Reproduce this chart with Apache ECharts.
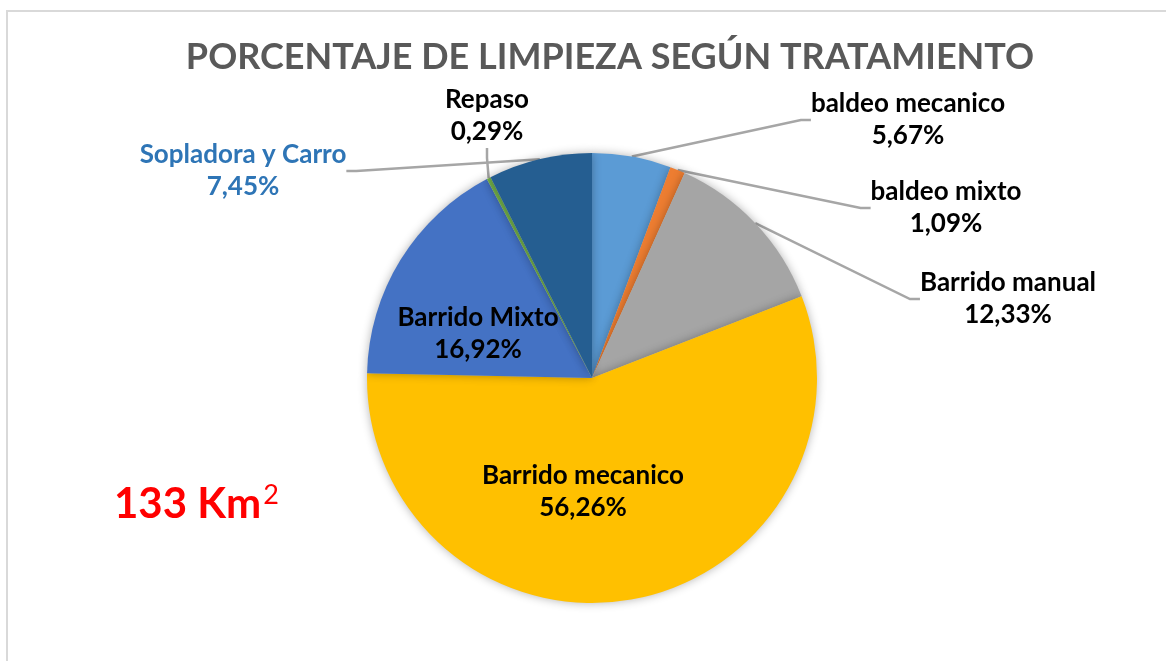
<!DOCTYPE html>
<html>
<head>
<meta charset="utf-8">
<script src="https://cdn.jsdelivr.net/npm/echarts@6/dist/echarts.min.js"></script>
<style>
  html, body { margin: 0; padding: 0; background: #fff; }
  #chart { width: 1166px; height: 661px; }
</style>
</head>
<body>
<div id="chart"></div>
<script>
// slices, clockwise from 12 o'clock
const categories = ['baldeo mecanico', 'baldeo mixto', 'Barrido manual', 'Barrido mecanico', 'Barrido Mixto', 'Repaso', 'Sopladora y Carro'];
const percents = [5.67, 1.09, 12.33, 56.26, 16.92, 0.29, 7.45];
const colors = ['#5B9BD5', '#ED7D31', '#A5A5A5', '#FFC000', '#4472C4', '#70AD47', '#255E91'];
const labelColors = ['#000', '#000', '#000', '#000', '#000', '#000', '#2E75B6'];

// where each label box sits (centre), Excel-like manual placement
const labelSpots = [
  [908, 120], [946, 208], [1008, 299], [583, 492], [478, 334], [487, 116], [243, 171]
];

const chart = echarts.init(document.getElementById('chart'));
const font = 'Lato, "Open Sans", sans-serif';

const option = {
  backgroundColor: '#fff',
  animation: false,
  title: {
    text: 'PORCENTAJE DE LIMPIEZA SEGÚN TRATAMIENTO',
    left: 605,
    textAlign: 'center',
    top: 34,
    textStyle: { fontFamily: font, fontSize: 36, fontWeight: 'bold', color: '#595959' }
  },
  graphic: [
    {
      type: 'polyline',
      shape: { points: [[7, 661], [7, 11], [1166, 11]] },
      style: { stroke: '#d9d9d9', lineWidth: 2, fill: null },
      silent: true
    },
    {
      type: 'text',
      left: 114,
      top: 482,
      style: {
        text: '{a|133 Km}{b|2}',
        rich: {
          a: { fontFamily: font, fontSize: 42, fontWeight: 'bold', fill: '#FF0000' },
          b: { fontFamily: font, fontSize: 27, fill: '#FF0000', padding: [0, 0, 18, 2] }
        }
      }
    }
  ],
  series: [{
    type: 'pie',
    center: [592, 378],
    radius: 225,
    startAngle: 90,
    clockwise: true,
    avoidLabelOverlap: false,
    itemStyle: {
      shadowBlur: 10,
      shadowColor: 'rgba(0,0,0,0.3)'
    },
    label: {
      show: true,
      position: 'outside',
      fontFamily: font,
      fontSize: 26,
      fontWeight: 'bold',
      lineHeight: 32,
      align: 'center',
      formatter: p => p.name + '\n' + p.value.toFixed(2).replace('.', ',') + '%'
    },
    labelLine: {
      show: true,
      length: 20,
      length2: 10,
      lineStyle: { color: '#A6A6A6', width: 2.5 }
    },
    labelLayout: p => ({
      x: labelSpots[p.dataIndex][0],
      y: labelSpots[p.dataIndex][1],
      align: 'center',
      verticalAlign: 'middle'
    }),
    data: categories.map((name, i) => ({
      name: name,
      value: percents[i],
      itemStyle: { color: colors[i] },
      label: { color: labelColors[i] },
      labelLine: { show: i !== 3 && i !== 4 }
    }))
  }]
};

chart.setOption(option);
</script>
</body>
</html>
